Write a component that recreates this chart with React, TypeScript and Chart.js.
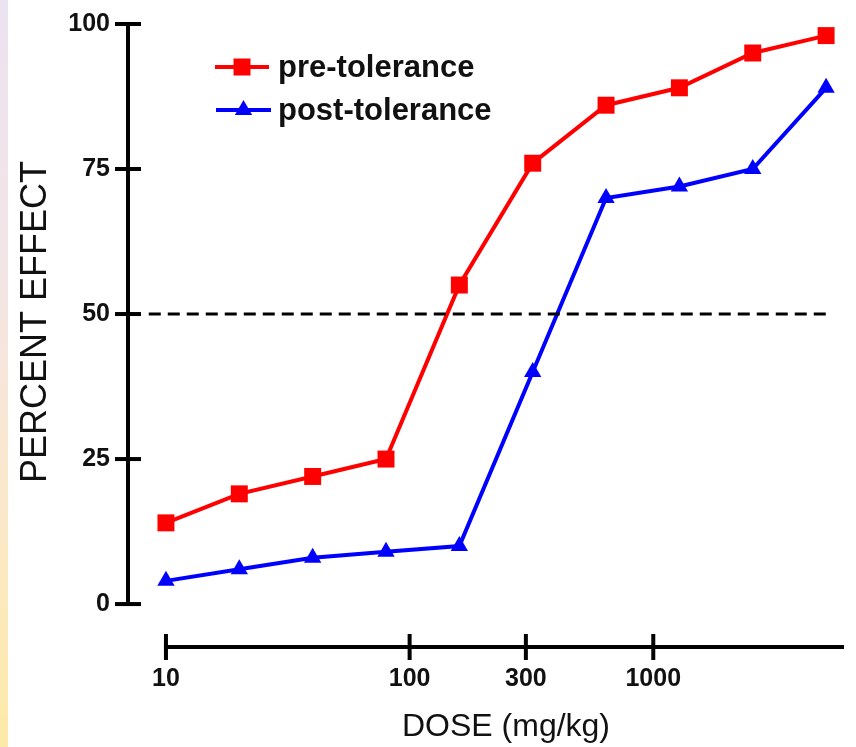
import React, { useEffect, useRef } from "react";
import { Chart, registerables } from "chart.js";

Chart.register(...registerables);

const doses = [10, 20, 40, 80, 160, 320, 640, 1280, 2560, 5120];
const preTolerance = [14, 19, 22, 25, 55, 76, 86, 89, 95, 98];
const postTolerance = [4, 6, 8, 9, 10, 40, 70, 72, 75, 89];
const referenceLevel = 50;
const referenceRange = [8.5, 5120];
const xTickValues = [10, 100, 300, 1000];
const yTickValues = [0, 25, 50, 75, 100];
const seriesNames = ["pre-tolerance", "post-tolerance"];
const xTitle = "DOSE (mg/kg)";
const yTitle = "PERCENT EFFECT";

const FONT = '"Liberation Sans", Arial, sans-serif';
const RED = "#ff0000";
const BLUE = "#0000ff";

const axesPlugin = {
  id: "customAxes",
  afterDraw(chart: any) {
    const ctx = chart.ctx;
    const xs = chart.scales.x;
    const ys = chart.scales.y;
    ctx.save();
    ctx.strokeStyle = "#000";
    ctx.lineWidth = 4;
    ctx.lineCap = "butt";
    // y axis
    const axX = chart.chartArea.left + 1;
    const yTop = ys.getPixelForValue(100);
    const yBot = ys.getPixelForValue(0);
    ctx.beginPath();
    ctx.moveTo(axX, yTop - 2);
    ctx.lineTo(axX, yBot + 2);
    ctx.stroke();
    yTickValues.forEach((v) => {
      const p = ys.getPixelForValue(v);
      ctx.beginPath();
      ctx.moveTo(axX - 13, p);
      ctx.lineTo(axX + 13, p);
      ctx.stroke();
    });
    // x axis
    const axY = chart.chartArea.bottom;
    const x0 = xs.getPixelForValue(xTickValues[0]);
    ctx.beginPath();
    ctx.moveTo(x0 - 2, axY);
    ctx.lineTo(chart.chartArea.right, axY);
    ctx.stroke();
    xTickValues.forEach((v) => {
      const p = xs.getPixelForValue(v);
      ctx.beginPath();
      ctx.moveTo(p, axY - 13);
      ctx.lineTo(p, axY + 13);
      ctx.stroke();
    });
    // titles
    ctx.fillStyle = "#111";
    ctx.textAlign = "center";
    ctx.textBaseline = "middle";
    ctx.font = `32px ${FONT}`;
    ctx.fillText(xTitle, 506, 727);
    ctx.save();
    ctx.translate(36, 322);
    ctx.rotate(-Math.PI / 2);
    ctx.font = `36px ${FONT}`;
    ctx.fillText(yTitle, 0, 0);
    ctx.restore();
    // legend
    const rows = [
      { name: seriesNames[0], color: RED, style: "rect", y: 67, x1: 215, x2: 269 },
      { name: seriesNames[1], color: BLUE, style: "triangle", y: 110, x1: 216, x2: 271 },
    ];
    rows.forEach((r) => {
      ctx.strokeStyle = r.color;
      ctx.fillStyle = r.color;
      ctx.lineWidth = 4;
      ctx.beginPath();
      ctx.moveTo(r.x1, r.y);
      ctx.lineTo(r.x2, r.y);
      ctx.stroke();
      const cx = (r.x1 + r.x2) / 2;
      ctx.beginPath();
      if (r.style === "rect") {
        ctx.rect(cx - 8.5, r.y - 8.5, 17, 17);
      } else {
        const rad = 10;
        ctx.moveTo(cx, r.y - rad);
        ctx.lineTo(cx + rad * 0.866, r.y + rad * 0.5);
        ctx.lineTo(cx - rad * 0.866, r.y + rad * 0.5);
        ctx.closePath();
      }
      ctx.fill();
      ctx.fillStyle = "#111";
      ctx.textAlign = "left";
      ctx.textBaseline = "middle";
      ctx.font = `bold 31px ${FONT}`;
      ctx.fillText(r.name, 278, r.y + 1);
    });
    ctx.restore();
  },
};

export default function App() {
  const canvasRef = useRef<HTMLCanvasElement | null>(null);

  useEffect(() => {
    if (!canvasRef.current) return;
    const chart = new Chart(canvasRef.current, {
      type: "line",
      data: {
        datasets: [
          {
            label: "50%",
            data: referenceRange.map((x) => ({ x, y: referenceLevel })),
            borderColor: "#000",
            borderWidth: 3,
            borderDash: [12, 7],
            pointRadius: 0,
            fill: false,
          },
          {
            label: seriesNames[0],
            data: doses.map((x, i) => ({ x, y: preTolerance[i] })),
            borderColor: RED,
            backgroundColor: RED,
            borderWidth: 4,
            pointStyle: "rect",
            pointRadius: 12,
            pointBorderWidth: 0,
            tension: 0,
            clip: false,
          },
          {
            label: seriesNames[1],
            data: doses.map((x, i) => ({ x, y: postTolerance[i] })),
            borderColor: BLUE,
            backgroundColor: BLUE,
            borderWidth: 4,
            pointStyle: "triangle",
            pointRadius: 10,
            pointBorderWidth: 0,
            tension: 0,
            clip: false,
          },
        ],
      },
      options: {
        responsive: false,
        animation: false,
        events: [],
        layout: { padding: { top: 24, right: 11, left: 0, bottom: 0 } },
        plugins: {
          legend: { display: false },
          tooltip: { enabled: false },
          title: { display: false },
        },
        scales: {
          x: {
            type: "logarithmic",
            min: 6.92,
            max: 6064,
            grid: { display: false, drawTicks: false },
            border: { display: false },
            afterBuildTicks: (s: any) => {
              s.ticks = xTickValues.map((v) => ({ value: v }));
            },
            afterFit: (s: any) => {
              s.height = 100;
              s.paddingLeft = 0;
              s.paddingRight = 0;
            },
            ticks: {
              autoSkip: false,
              maxRotation: 0,
              padding: 17,
              color: "#111",
              font: { family: FONT, size: 25, weight: "bold" },
              callback: (v: any) => String(v),
            },
          },
          y: {
            type: "linear",
            min: -7.4,
            max: 100,
            grid: { display: false, drawTicks: false },
            border: { display: false },
            afterBuildTicks: (s: any) => {
              s.ticks = yTickValues.map((v) => ({ value: v }));
            },
            afterFit: (s: any) => {
              s.width = 127;
              s.paddingTop = 0;
              s.paddingBottom = 0;
            },
            ticks: {
              padding: 17,
              color: "#111",
              font: { family: FONT, size: 25, weight: "bold" },
              callback: (v: any) => String(v),
            },
          },
        },
      },
      plugins: [axesPlugin],
    });
    return () => chart.destroy();
  }, []);

  return (
    <div
      style={{
        position: "fixed",
        left: 0,
        top: 0,
        width: 856,
        height: 747,
        background: "#fff",
        overflow: "hidden",
      }}
    >
      <div
        style={{
          position: "absolute",
          left: 0,
          top: 0,
          width: 8,
          height: 747,
          background: "linear-gradient(to bottom, #ebe3f0 0%, #f3e4e6 35%, #fbe8c8 70%, #fdeaa6 100%)",
        }}
      />
      <canvas
        ref={canvasRef}
        width={856}
        height={747}
        style={{ position: "absolute", left: 0, top: 0, width: 856, height: 747 }}
      />
    </div>
  );
}
